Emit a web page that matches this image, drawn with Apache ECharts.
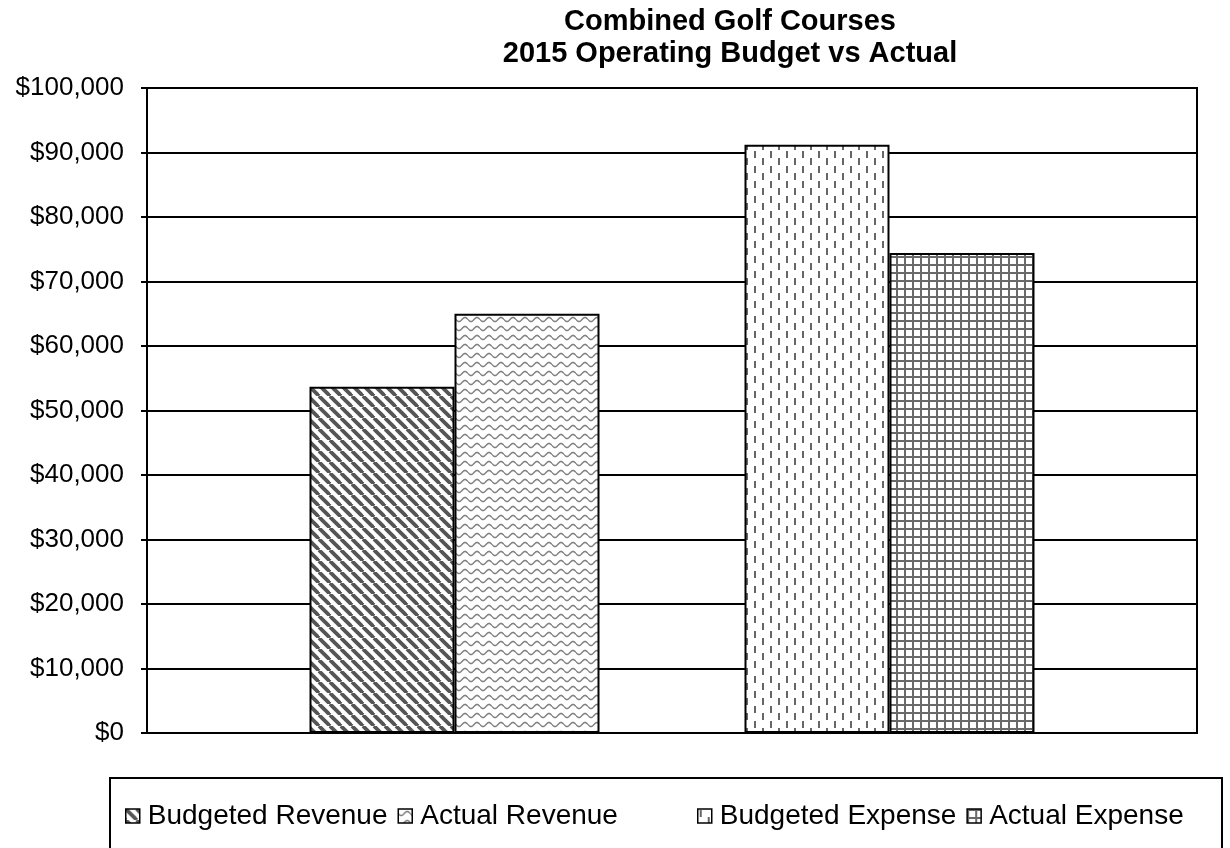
<!DOCTYPE html>
<html>
<head>
<meta charset="utf-8">
<script src="https://cdn.jsdelivr.net/npm/echarts@6/dist/echarts.min.js"></script>
<style>
  html, body { margin: 0; padding: 0; background: #fff; }
  #main { width: 1230px; height: 848px; }
</style>
</head>
<body>
<div id="main"></div>
<script>
var categories = [''];
var seriesNames = ['Budgeted Revenue', 'Actual Revenue', 'Budgeted Expense', 'Actual Expense'];
var budgetedRevenue = [53700];
var actualRevenue = [65000];
var budgetedExpense = [91200];
var actualExpense = [74400];
var yMin = 0, yMax = 100000, yStep = 10000;

function makePattern(w, h, draw) {
	var c = document.createElement('canvas');
	c.width = w;
	c.height = h;
	var ctx = c.getContext('2d');
	ctx.fillStyle = '#fff';
	ctx.fillRect(0, 0, w, h);
	draw(ctx);
	return { image: c, repeat: 'repeat' };
}

// diagonal stripes
var stripes = makePattern(11, 11, function (ctx) {
	ctx.strokeStyle = '#555';
	ctx.lineWidth = 3.8;
	for (var k = -1; k <= 1; k++) {
		ctx.beginPath();
		ctx.moveTo(k * 11, 0);
		ctx.lineTo(k * 11 + 11, 11);
		ctx.stroke();
	}
});
// wavy lines
var waves = makePattern(12, 9, function (ctx) {
	ctx.strokeStyle = '#808080';
	ctx.lineWidth = 1.5;
	ctx.beginPath();
	for (var x = 0; x <= 12; x += 0.5) {
		var y = 4.5 + 2 * Math.sin(2 * Math.PI * x / 12);
		if (x === 0) ctx.moveTo(x, y); else ctx.lineTo(x, y);
	}
	ctx.stroke();
});
// dashed vertical
var dashes = makePattern(16, 15, function (ctx) {
	ctx.fillStyle = '#666';
	ctx.fillRect(2, 1, 2, 7);
	ctx.fillRect(10, 8, 2, 7);
});
// small grid
var grid = makePattern(8, 8, function (ctx) {
	ctx.fillStyle = '#6a6a6a';
	ctx.fillRect(0, 0, 8, 2);
	ctx.fillRect(0, 0, 2, 8);
});

function barSeries(name, data, fill) {
	return {
		name: name,
		type: 'bar',
		data: data,
		barWidth: 145,
		barGap: '0%',
		itemStyle: { color: fill, borderColor: '#000', borderWidth: 2 }
	};
}

var legendText = { fontFamily: 'Arial, Liberation Sans', fontSize: 28, color: '#000', padding: [0, 0, 0, 3] };

var myChart = echarts.init(document.getElementById('main'));

var option = {
	animation: false,
	backgroundColor: '#fff',
	title: {
		text: 'Combined Golf Courses\n2015 Operating Budget vs Actual',
		left: 725,
		textAlign: 'center',
		top: 1,
		textStyle: {
			fontFamily: 'Arial, Liberation Sans',
			fontWeight: 'bold',
			fontSize: 29,
			lineHeight: 32,
			color: '#000'
		}
	},
	legend: [{
		data: seriesNames.slice(0, 2),
		left: 120,
		top: 797,
		itemWidth: 14,
		itemHeight: 14,
		itemGap: 10,
		icon: 'rect',
		itemStyle: { borderColor: '#000', borderWidth: 1.5 },
		textStyle: legendText
	}, {
		data: seriesNames.slice(2, 4),
		left: 692,
		top: 797,
		itemWidth: 14,
		itemHeight: 14,
		itemGap: 10,
		icon: 'rect',
		itemStyle: { borderColor: '#000', borderWidth: 1.5 },
		textStyle: legendText
	}],
	grid: {
		left: 147,
		right: 33,
		top: 88,
		bottom: 115,
		show: true,
		borderColor: '#000',
		borderWidth: 2
	},
	xAxis: {
		type: 'category',
		data: categories,
		axisLine: { lineStyle: { color: '#000', width: 2 } },
		axisTick: { show: false },
		axisLabel: { show: false }
	},
	yAxis: {
		type: 'value',
		min: yMin,
		max: yMax,
		interval: yStep,
		axisLine: { show: true, lineStyle: { color: '#000', width: 2 } },
		axisTick: { show: true, length: 6, lineStyle: { color: '#000', width: 2 } },
		splitLine: { lineStyle: { color: '#000', width: 2 } },
		axisLabel: {
			margin: 23,
			fontFamily: 'Arial, Liberation Sans',
			fontSize: 26,
			color: '#000',
			formatter: function (v) { return '$' + v.toLocaleString('en-US'); }
		}
	},
	graphic: [{
		type: 'rect',
		shape: { x: 110, y: 778, width: 1112, height: 100 },
		style: { fill: null, stroke: '#000', lineWidth: 2 },
		silent: true
	}],
	series: [
		barSeries(seriesNames[0], budgetedRevenue, stripes),
		barSeries(seriesNames[1], actualRevenue, waves),
		{ name: 'gap', type: 'bar', data: ['-'], barWidth: 145, barGap: '0%' },
		barSeries(seriesNames[2], budgetedExpense, dashes),
		barSeries(seriesNames[3], actualExpense, grid)
	]
};
myChart.setOption(option);
</script>
</body>
</html>
